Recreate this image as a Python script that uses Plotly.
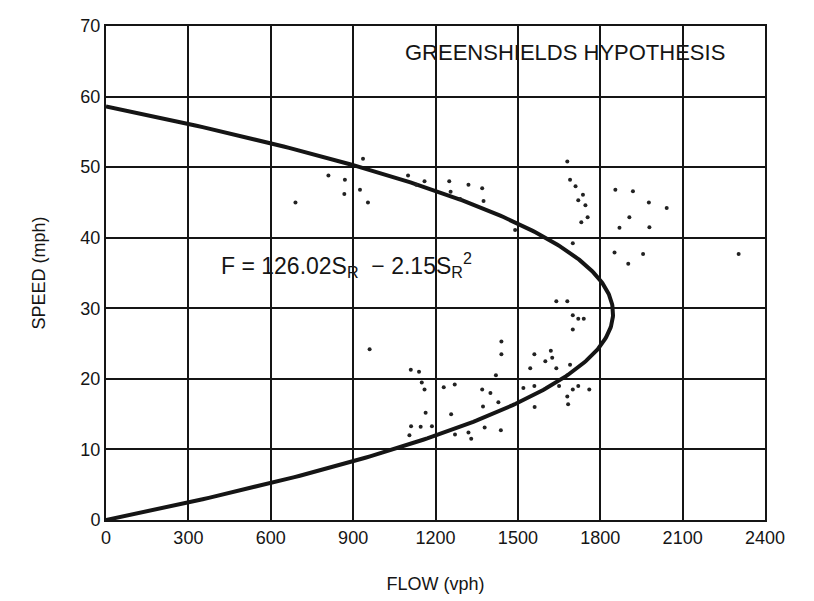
import numpy as np
import plotly.graph_objects as go

# Model coefficients: F = 126.02 S - 2.15 S^2
coef_a = 126.02
coef_b = 2.15

# Observed points (flow vph, speed mph)
flow_obs = [690, 810, 870, 868, 936, 925, 954, 1100, 1130, 1160, 1250, 1255, 1290, 1320, 1370, 1375, 1490,
            1680, 1690, 1710, 1737, 1746, 1754, 1731, 1700, 1720,
            1855, 1919, 1977, 2042, 1906, 1870, 1979, 1852, 1956, 1902, 2304,
            960,
            1111, 1105, 1146, 1164, 1187, 1257, 1271, 1320, 1330, 1379, 1438, 1373, 1429, 1561, 1683,
            1110, 1140, 1150, 1160, 1230, 1270, 1370, 1400, 1440, 1440, 1420,
            1520, 1545, 1560, 1560, 1600, 1620, 1625, 1640, 1650, 1640, 1680, 1700, 1700, 1720, 1740,
            1690, 1700, 1720, 1760, 1680]
speed_obs = [45.0, 48.8, 48.2, 46.2, 51.2, 46.8, 45.0, 48.8, 47.5, 48.0, 48.0, 46.5, 45.5, 47.5, 47.0, 45.2, 41.1,
             50.8, 48.2, 47.3, 46.1, 44.6, 42.9, 42.2, 39.2, 45.3,
             46.8, 46.6, 45.0, 44.2, 42.9, 41.4, 41.5, 37.9, 37.7, 36.3, 37.7,
             24.2,
             13.3, 12.0, 13.2, 15.2, 13.3, 15.0, 12.1, 12.4, 11.5, 13.1, 12.7, 16.1, 16.7, 16.0, 16.4,
             21.3, 21.0, 19.5, 18.5, 18.8, 19.2, 18.5, 18.0, 25.3, 23.5, 20.5,
             18.7, 21.5, 23.5, 19.0, 22.5, 24.0, 23.0, 21.5, 19.0, 31.0, 31.0, 27.0, 29.0, 28.5, 28.5,
             22.0, 18.5, 19.0, 18.5, 17.5]

x_ticks = [0, 300, 600, 900, 1200, 1500, 1800, 2100, 2400]
y_ticks = [0, 10, 20, 30, 40, 50, 60, 70]

s_max = coef_a / coef_b
speed_curve = np.linspace(0, s_max, 300)
flow_curve = coef_a * speed_curve - coef_b * speed_curve ** 2

FONT = "Liberation Sans, Arial, sans-serif"
INK = "#151515"

fig = go.Figure()
fig.add_trace(go.Scatter(x=flow_curve, y=speed_curve, mode="lines",
                         line=dict(color=INK, width=4), hoverinfo="skip"))
fig.add_trace(go.Scatter(x=flow_obs, y=speed_obs, mode="markers",
                         marker=dict(color="#222222", size=4)))

fig.add_annotation(x=1672, y=66.2, text="GREENSHIELDS HYPOTHESIS", showarrow=False,
                   font=dict(size=22, color=INK, family=FONT))
fig.add_annotation(x=410, y=36.2, xanchor="left",
                   text="F = 126.02S<sub>R</sub>  − 2.15S<sub>R</sub><sup>2</sup>",
                   showarrow=False, font=dict(size=23, color=INK, family=FONT))

axis_common = dict(showgrid=True, gridcolor=INK, gridwidth=2, showline=True, linecolor=INK,
                   linewidth=2, mirror=True, zeroline=False, ticks="",
                   ticklabeloverflow="allow",
                   tickfont=dict(size=18, color=INK, family=FONT))
fig.update_xaxes(range=[0, 2400], tickvals=x_ticks, ticktext=[str(v) for v in x_ticks],
                 title=dict(text="FLOW (vph)", font=dict(size=18, color=INK, family=FONT), standoff=31),
                 **axis_common)
fig.update_yaxes(range=[0, 70], tickvals=y_ticks, ticktext=[str(v) for v in y_ticks],
                 title=dict(text="SPEED (mph)", font=dict(size=18, color=INK, family=FONT), standoff=30),
                 **axis_common)
fig.update_layout(width=814, height=601, showlegend=False, plot_bgcolor="white", paper_bgcolor="white",
                  margin=dict(l=98, r=57, t=8, b=89))
fig.write_html("out.html")
